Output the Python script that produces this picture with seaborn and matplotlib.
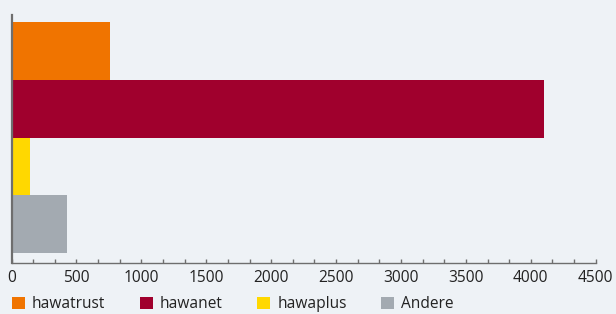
import matplotlib
matplotlib.use("Agg")
import matplotlib.pyplot as plt
import matplotlib.ticker as mticker
from matplotlib.patches import Patch
import seaborn as sns

# Daten
kategorien = ["hawatrust", "hawanet", "hawaplus", "Andere"]
werte = [760, 4100, 140, 430]
farben = ["#f07400", "#a0002d", "#ffd800", "#a3aab1"]
x_ticks = [0, 500, 1000, 1500, 2000, 2500, 3000, 3500, 4000, 4500]

bg = "#eef2f6"
sns.set_style("white")
plt.rcParams["font.family"] = ["Open Sans", "DejaVu Sans"]

fig = plt.figure(figsize=(6.16, 3.14), dpi=100, facecolor=bg)
ax = fig.add_axes([11.5 / 616, 1 - 263 / 314, 584.2 / 616, 248 / 314])
ax.set_facecolor(bg)

sns.barplot(x=werte, y=kategorien, hue=kategorien, palette=farben,
            width=1.0, orient="h", legend=False, ax=ax, saturation=1,
            linewidth=0, edgecolor="none")

ax.set_xlim(0, 4500)
ax.set_ylim(3.67, -0.62)
ax.set_xticks(x_ticks)
ax.set_xticklabels([str(t) for t in x_ticks])
ax.xaxis.set_minor_locator(mticker.MultipleLocator(500 / 3))
ax.set_yticks([])
ax.set_xlabel("")
ax.set_ylabel("")

for s in ["top", "right"]:
    ax.spines[s].set_visible(False)
ax.spines["left"].set_color("#6e6e6e")
ax.spines["left"].set_linewidth(1.6)
ax.spines["bottom"].set_color("#6e6e6e")
ax.spines["bottom"].set_linewidth(1.0)
ax.tick_params(axis="x", which="both", bottom=True, direction="in", length=3,
               width=1, color="#6e6e6e", labelsize=11.2, labelcolor="#222222",
               pad=5)

handles = [Patch(facecolor=c, edgecolor="none") for c in farben]
fig.legend(handles, kategorien, loc="center left",
           bbox_to_anchor=(4 / 616, 1 - 304.5 / 314), ncol=4, frameon=False,
           fontsize=11.2, handlelength=0.85, handleheight=0.85,
           handletextpad=0.45, columnspacing=2.2, borderpad=0,
           labelcolor="#222222")

fig.savefig("out.png", dpi=100, facecolor=bg)
